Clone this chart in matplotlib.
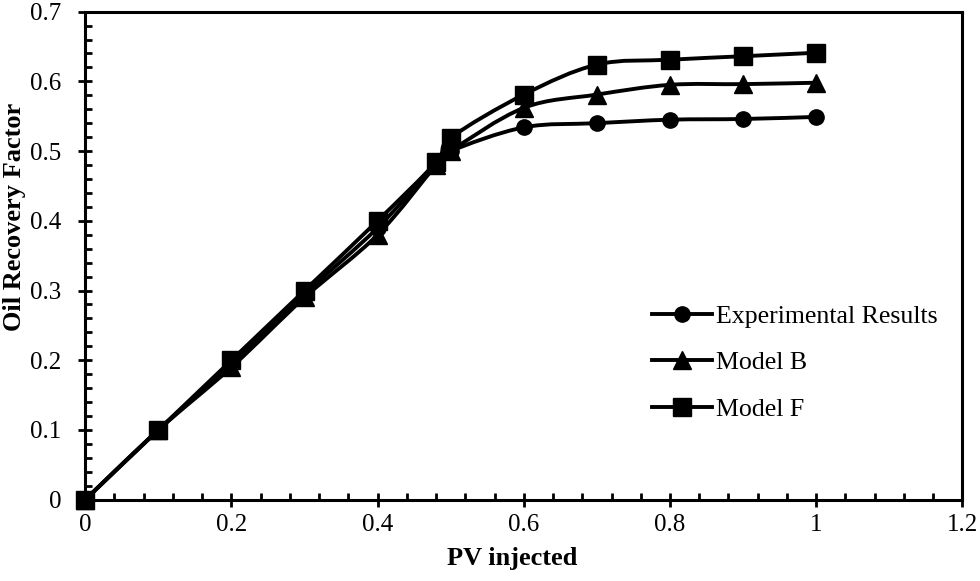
import matplotlib
matplotlib.use("Agg")
import matplotlib.pyplot as plt
from matplotlib.path import Path
from matplotlib.patches import PathPatch
from matplotlib.lines import Line2D
from matplotlib.ticker import MultipleLocator, FuncFormatter

pv = [0, 0.1, 0.2, 0.3, 0.4, 0.48, 0.5, 0.6, 0.7, 0.8, 0.9, 1.0]
experimental = [0, 0.1, 0.195, 0.295, 0.39, 0.482, 0.50, 0.534, 0.540, 0.545, 0.546, 0.549]
model_b = [0, 0.1, 0.19, 0.29, 0.38, 0.48, 0.50, 0.562, 0.581, 0.595, 0.596, 0.598]
model_f = [0, 0.1, 0.20, 0.30, 0.40, 0.484, 0.519, 0.581, 0.624, 0.631, 0.636, 0.641]

series_names = ["Experimental Results", "Model B", "Model F"]
series_values = [experimental, model_b, model_f]
series_markers = ["o", "^", "s"]
series_sizes = [11, 12.5, 12.5]

plt.rcParams['font.family'] = ['Liberation Serif', 'DejaVu Serif']

fig = plt.figure(figsize=(9.8, 5.81), dpi=100)
ax = fig.add_axes([0.087, 0.14, 0.895, 0.84])


def smooth_path(xs, ys, t=1/6):
    verts = [(xs[0], ys[0])]
    codes = [Path.MOVETO]
    n = len(xs)
    for i in range(n - 1):
        x0, y0 = (xs[i - 1], ys[i - 1]) if i > 0 else (xs[i], ys[i])
        x1, y1 = xs[i], ys[i]
        x2, y2 = xs[i + 1], ys[i + 1]
        x3, y3 = (xs[i + 2], ys[i + 2]) if i + 2 < n else (xs[i + 1], ys[i + 1])
        c1 = (x1 + (x2 - x0) * t, y1 + (y2 - y0) * t)
        c2 = (x2 - (x3 - x1) * t, y2 - (y3 - y1) * t)
        verts += [c1, c2, (x2, y2)]
        codes += [Path.CURVE4] * 3
    return Path(verts, codes)


handles = []
for name, vals, mk, ms in zip(series_names, series_values, series_markers, series_sizes):
    patch = PathPatch(smooth_path(pv, vals), facecolor="none", edgecolor="black",
                      lw=2.8, zorder=2)
    ax.add_patch(patch)
    ax.plot(pv, vals, linestyle="none", marker=mk, markersize=ms, color="black",
            zorder=3, clip_on=False)
    handles.append(Line2D([], [], color="black", lw=2.8, marker=mk, markersize=ms, label=name))

ax.set_xlim(0, 1.2)
ax.set_ylim(0, 0.7)
ax.xaxis.set_major_locator(MultipleLocator(0.2))
ax.xaxis.set_minor_locator(MultipleLocator(0.04))
ax.yaxis.set_major_locator(MultipleLocator(0.1))
ax.yaxis.set_minor_locator(MultipleLocator(0.02))
ax.xaxis.set_major_formatter(FuncFormatter(lambda v, p: f"{v:g}"))
ax.yaxis.set_major_formatter(FuncFormatter(lambda v, p: f"{v:g}"))
ax.tick_params(which="major", direction="inout", length=10, width=2, labelsize=18)
ax.tick_params(axis="y", which="major", pad=12)
ax.tick_params(axis="x", which="major", pad=5)
ax.tick_params(which="minor", direction="in", length=5, width=2)
for sp in ax.spines.values():
    sp.set_linewidth(2.2)

ax.set_xlabel("PV injected", fontsize=19, fontweight="bold")
ax.set_ylabel("Oil Recovery Factor", fontsize=19, fontweight="bold")
ax.xaxis.set_label_coords(0.487, -0.098)
ax.yaxis.set_label_coords(-0.068, 0.58)

ax.legend(handles=handles, loc="upper left", bbox_to_anchor=(0.634, 0.42), frameon=False,
          fontsize=18.6, handlelength=2.33, handletextpad=0.15, labelspacing=0.9,
          borderaxespad=0)

fig.savefig("out.png", dpi=100)
